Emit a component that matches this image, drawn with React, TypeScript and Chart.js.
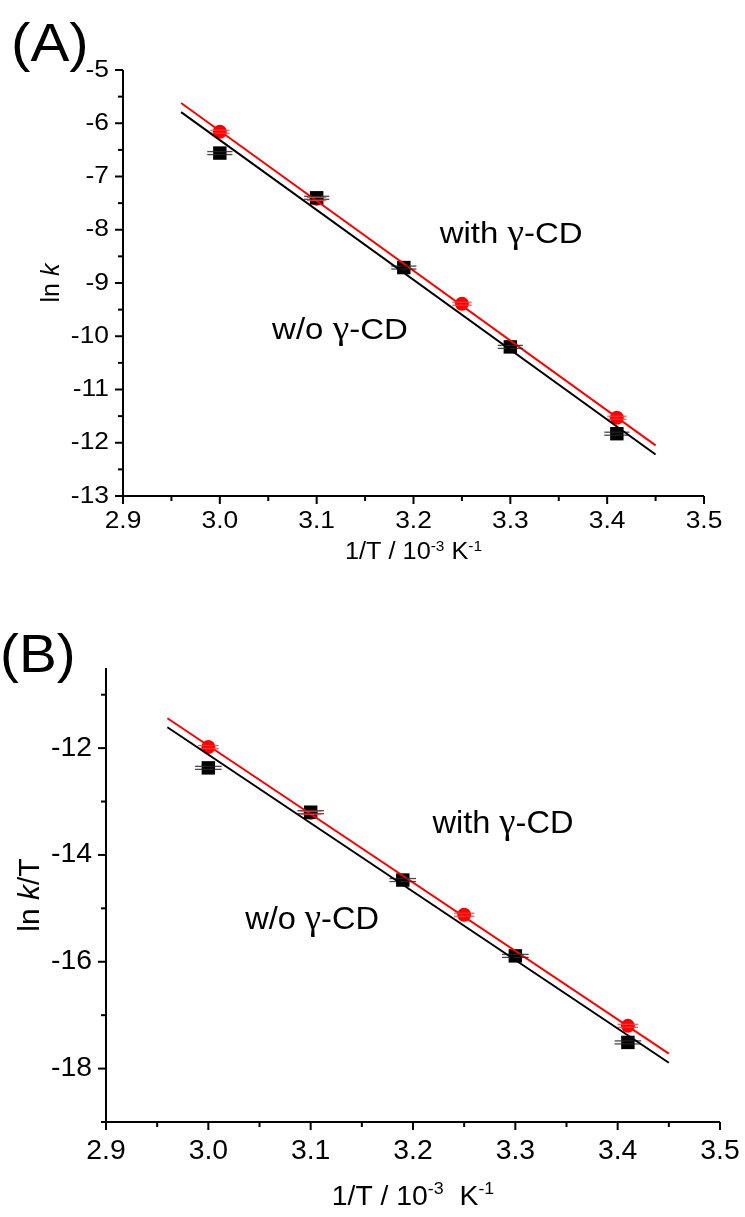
import { useEffect, useRef } from "react";
import { Chart, registerables } from "chart.js";

Chart.register(...registerables);

// ---- shared x data (1/T in 10^-3 K^-1) ----
const xWith = [3.0, 3.1, 3.25, 3.41];
const xWithout = [3.0, 3.1, 3.19, 3.3, 3.41];
const xErrWith = [0.01, 0.01, 0.01, 0.01];
const xErrWithout = [0.013, 0.013, 0.013, 0.013, 0.013];
const fitX = [2.96, 3.45];

// ---- panel A: ln k ----
const lnkWith = [-6.16, -7.42, -9.39, -11.53];
const lnkWithout = [-6.56, -7.4, -8.71, -10.2, -11.83];
const fitWithA = [-5.62, -12.05];
const fitWithoutA = [-5.79, -12.22];

// ---- panel B: ln k/T ----
const lnkTWith = [-11.98, -13.21, -15.12, -17.2];
const lnkTWithout = [-12.37, -13.2, -14.47, -15.89, -17.51];
const fitWithB = [-11.44, -17.72];
const fitWithoutB = [-11.61, -17.89];

// ---- axes ----
const xMajor = [2.9, 3.0, 3.1, 3.2, 3.3, 3.4, 3.5];
const xMinor = [2.95, 3.05, 3.15, 3.25, 3.35, 3.45];
const yMajorA = [-5, -6, -7, -8, -9, -10, -11, -12, -13];
const yMinorA = [-5.5, -6.5, -7.5, -8.5, -9.5, -10.5, -11.5, -12.5];
const yMajorB = [-12, -14, -16, -18];
const yMinorB = [-11, -13, -15, -17, -19];

const FONT = '"Liberation Sans", Arial, Helvetica, sans-serif';
const SERIF = '"Liberation Serif", "Times New Roman", serif';

type Seg = { t: string; sup?: boolean; it?: boolean; serif?: boolean };

// series labels: the gamma is set in a serif face
const labelWith: Seg[] = [{ t: "with " }, { t: "\u03b3", serif: true }, { t: "-CD" }];
const labelWithout: Seg[] = [{ t: "w/o " }, { t: "\u03b3", serif: true }, { t: "-CD" }];

function drawText(
  ctx: CanvasRenderingContext2D,
  s: string,
  x: number,
  y: number,
  size: number,
  align: "left" | "center" | "right",
  sx: number
) {
  ctx.save();
  ctx.font = `${size}px ${FONT}`;
  const w = ctx.measureText(s).width * sx;
  const left = align === "center" ? x - w / 2 : align === "right" ? x - w : x;
  ctx.translate(left, y);
  ctx.scale(sx, 1);
  ctx.textAlign = "left";
  ctx.textBaseline = "middle";
  ctx.fillStyle = "#000";
  ctx.fillText(s, 0, 0);
  ctx.restore();
}

function drawRich(
  ctx: CanvasRenderingContext2D,
  segs: Seg[],
  x0: number,
  y0: number,
  size: number,
  sx: number,
  rotate: boolean,
  align: "left" | "center" = "center"
) {
  ctx.save();
  const fontFor = (g: Seg) =>
    `${g.it ? "italic " : ""}${g.sup ? Math.round(size * 0.62) : g.serif ? Math.round(size * 1.12) : size}px ${
      g.serif ? SERIF : FONT
    }`;
  let total = 0;
  const widths = segs.map((g) => {
    ctx.font = fontFor(g);
    const w = ctx.measureText(g.t).width;
    total += w;
    return w;
  });
  ctx.translate(x0, y0);
  if (rotate) ctx.rotate(-Math.PI / 2);
  ctx.scale(sx, 1);
  ctx.fillStyle = "#000";
  ctx.textAlign = "left";
  ctx.textBaseline = "alphabetic";
  const base = size * 0.36;
  let x = align === "center" ? -total / 2 : 0;
  segs.forEach((g, i) => {
    ctx.font = fontFor(g);
    ctx.fillText(g.t, x, g.sup ? base - size * 0.38 : base);
    x += widths[i];
  });
  ctx.restore();
}

type PanelCfg = {
  tag: string;
  tagPos: [number, number];
  tagSize: number;
  yMin: number;
  yMax: number;
  yMajor: number[];
  yMinor: number[];
  yWith: number[];
  yWithout: number[];
  fitWith: number[];
  fitWithout: number[];
  padding: { left: number; right: number; top: number; bottom: number };
  tickSize: number;
  sx: number;
  xTitle: Seg[];
  xTitleSize: number;
  xTitleGap: number;
  yTitle: Seg[];
  yTitleSize: number;
  yTitleX: number;
  tickLabelGap: number;
  annSize: number;
  annotations: { text: Seg[]; x: number; y: number }[];
};

function buildChart(canvas: HTMLCanvasElement, cfg: PanelCfg) {
  const decor = {
    id: "panelDecor",
    afterDatasetDraw(chart: any, args: any) {
      // horizontal error bars, painted over the fit lines and under the markers
      if (args.index !== 1) return;
      const { ctx, scales } = chart;
      const xs = scales.x;
      const ys = scales.y;
      const bars = [
        { x: xWithout, y: cfg.yWithout, e: xErrWithout, c: "rgba(40,40,40,0.85)" },
        { x: xWith, y: cfg.yWith, e: xErrWith, c: "rgba(255,60,60,0.85)" },
      ];
      ctx.save();
      ctx.lineWidth = 1.3;
      bars.forEach((b) => {
        ctx.strokeStyle = b.c;
        b.x.forEach((xv, i) => {
          const x0 = xs.getPixelForValue(xv - b.e[i]);
          const x1 = xs.getPixelForValue(xv + b.e[i]);
          const py = ys.getPixelForValue(b.y[i]);
          [-1.5, 1.5].forEach((d) => {
            ctx.beginPath();
            ctx.moveTo(x0, py + d);
            ctx.lineTo(x1, py + d);
            ctx.stroke();
          });
        });
      });
      ctx.restore();
    },
    afterDraw(chart: any) {
      const { ctx, chartArea, scales } = chart;
      const xs = scales.x;
      const ys = scales.y;
      const { left, bottom, top, right } = chartArea;
      ctx.save();
      ctx.strokeStyle = "#000";
      ctx.lineWidth = 2;
      ctx.lineCap = "butt";
      // axis lines
      ctx.beginPath();
      ctx.moveTo(left, top);
      ctx.lineTo(left, bottom + 1);
      ctx.moveTo(left - 1, bottom);
      ctx.lineTo(right, bottom);
      ctx.stroke();
      // x ticks
      xMajor.forEach((v) => {
        const p = xs.getPixelForValue(v);
        ctx.beginPath();
        ctx.moveTo(p, bottom);
        ctx.lineTo(p, bottom + 8);
        ctx.stroke();
        drawText(ctx, v.toFixed(1), p, bottom + cfg.tickLabelGap, cfg.tickSize, "center", cfg.sx);
      });
      xMinor.forEach((v) => {
        const p = xs.getPixelForValue(v);
        ctx.beginPath();
        ctx.moveTo(p, bottom);
        ctx.lineTo(p, bottom + 5);
        ctx.stroke();
      });
      // y ticks
      cfg.yMajor.forEach((v) => {
        const p = ys.getPixelForValue(v);
        ctx.beginPath();
        ctx.moveTo(left, p);
        ctx.lineTo(left - 8, p);
        ctx.stroke();
        drawText(ctx, String(v), left - 14, p, cfg.tickSize, "right", cfg.sx);
      });
      cfg.yMinor.forEach((v) => {
        const p = ys.getPixelForValue(v);
        ctx.beginPath();
        ctx.moveTo(left, p);
        ctx.lineTo(left - 5, p);
        ctx.stroke();
      });
      ctx.restore();
      // axis titles
      drawRich(ctx, cfg.xTitle, (left + right) / 2, bottom + cfg.xTitleGap, cfg.xTitleSize, cfg.sx, false);
      drawRich(ctx, cfg.yTitle, cfg.yTitleX, (top + bottom) / 2, cfg.yTitleSize, 1, true);
      // series labels
      cfg.annotations.forEach((a) => {
        drawRich(
          ctx,
          a.text,
          xs.getPixelForValue(a.x),
          ys.getPixelForValue(a.y),
          cfg.annSize,
          cfg.sx,
          false,
          "left"
        );
      });
      // panel tag
      drawText(ctx, cfg.tag, cfg.tagPos[0], cfg.tagPos[1], cfg.tagSize, "left", cfg.sx);
    },
  };

  const pts = (xsArr: number[], ysArr: number[]) => xsArr.map((x, i) => ({ x, y: ysArr[i] }));

  return new Chart(canvas, {
    type: "scatter",
    data: {
      datasets: [
        {
          data: pts(fitX, cfg.fitWithout),
          showLine: true,
          borderColor: "#000",
          borderWidth: 2,
          pointRadius: 0,
        },
        {
          data: pts(fitX, cfg.fitWith),
          showLine: true,
          borderColor: "#ff0000",
          borderWidth: 2,
          pointRadius: 0,
        },
        {
          data: pts(xWithout, cfg.yWithout),
          pointStyle: "rect",
          pointRadius: 9.5,
          backgroundColor: "#000",
          borderWidth: 0,
        },
        {
          data: pts(xWith, cfg.yWith),
          pointStyle: "circle",
          pointRadius: 7,
          backgroundColor: "#ff0000",
          borderWidth: 0,
        },
      ],
    },
    options: {
      responsive: false,
      animation: false,
      events: [],
      layout: { padding: cfg.padding },
      plugins: { legend: { display: false }, tooltip: { enabled: false } },
      scales: {
        x: { type: "linear", min: 2.9, max: 3.5, display: false },
        y: { type: "linear", min: cfg.yMin, max: cfg.yMax, display: false },
      },
    } as any,
    plugins: [decor],
  });
}

const panelA: PanelCfg = {
  tag: "(A)",
  tagPos: [11, 46],
  tagSize: 53,
  yMin: -13,
  yMax: -5,
  yMajor: yMajorA,
  yMinor: yMinorA,
  yWith: lnkWith,
  yWithout: lnkWithout,
  fitWith: fitWithA,
  fitWithout: fitWithoutA,
  padding: { left: 123, right: 41, top: 70, bottom: 104 },
  tickSize: 24,
  sx: 1.1,
  xTitle: [{ t: "1/T / 10" }, { t: "-3", sup: true }, { t: " K" }, { t: "-1", sup: true }],
  xTitleSize: 23,
  xTitleGap: 55,
  yTitle: [{ t: "ln " }, { t: "k", it: true }],
  yTitleSize: 25,
  yTitleX: 50,
  tickLabelGap: 25,
  annSize: 30,
  annotations: [
    { text: labelWith, x: 3.227, y: -8.04 },
    { text: labelWithout, x: 3.054, y: -9.84 },
  ],
};

const panelB: PanelCfg = {
  tag: "(B)",
  tagPos: [0, 57],
  tagSize: 54,
  yMin: -19,
  yMax: -10.5,
  yMajor: yMajorB,
  yMinor: yMinorB,
  yWith: lnkTWith,
  yWithout: lnkTWithout,
  fitWith: fitWithB,
  fitWithout: fitWithoutB,
  padding: { left: 106, right: 25, top: 68, bottom: 95 },
  tickSize: 27,
  sx: 1.05,
  xTitle: [{ t: "1/T / 10" }, { t: "-3", sup: true }, { t: "  K" }, { t: "-1", sup: true }],
  xTitleSize: 27,
  xTitleGap: 73,
  yTitle: [{ t: "ln " }, { t: "k", it: true }, { t: "/T" }],
  yTitleSize: 30,
  yTitleX: 28,
  tickLabelGap: 30,
  annSize: 31,
  annotations: [
    { text: labelWith, x: 3.219, y: -13.38 },
    { text: labelWithout, x: 3.036, y: -15.18 },
  ],
};

export default function App() {
  const refA = useRef<HTMLCanvasElement>(null);
  const refB = useRef<HTMLCanvasElement>(null);

  useEffect(() => {
    const a = buildChart(refA.current!, panelA);
    const b = buildChart(refB.current!, panelB);
    return () => {
      a.destroy();
      b.destroy();
    };
  }, []);

  return (
    <div style={{ position: "fixed", left: 0, top: 0, width: 745, height: 1217, background: "#fff" }}>
      <canvas
        ref={refA}
        width={745}
        height={600}
        style={{ position: "absolute", left: 0, top: 0, width: 745, height: 600 }}
      />
      <canvas
        ref={refB}
        width={745}
        height={617}
        style={{ position: "absolute", left: 0, top: 600, width: 745, height: 617 }}
      />
    </div>
  );
}
